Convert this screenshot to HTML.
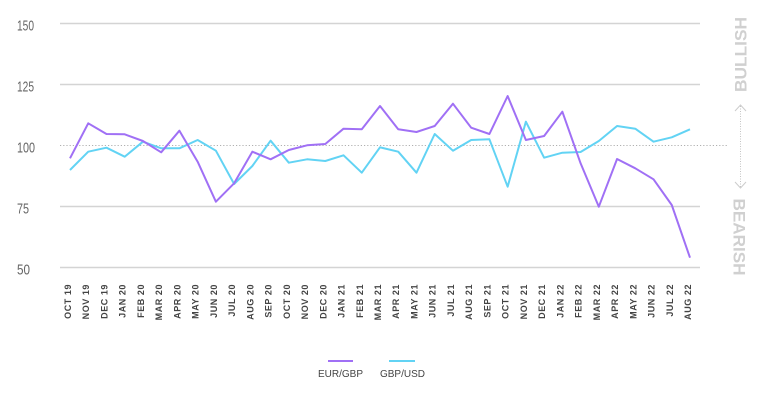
<!DOCTYPE html>
<html>
<head>
<meta charset="utf-8">
<style>
  html, body { margin: 0; padding: 0; background: #ffffff; }
  body { width: 768px; height: 406px; overflow: hidden; }
  svg { display: block; }
  .ylab { font-family: "Liberation Sans Narrow", "Liberation Sans", sans-serif; font-size: 15px; fill: #666666; }
  .xlab { font-family: "Liberation Sans", sans-serif; font-size: 9px; font-weight: bold; fill: #444444; letter-spacing: 0.55px; }
  .side { font-family: "Liberation Sans", sans-serif; font-size: 17px; font-weight: bold; fill: #d0d0d0; }
  .leg { font-family: "Liberation Sans", sans-serif; font-size: 10px; fill: #444444; }
</style>
</head>
<body>
<svg width="768" height="406" viewBox="0 0 768 406" xmlns="http://www.w3.org/2000/svg">
  <!-- gridlines -->
  <g stroke="#d4d4d4" stroke-width="1.5">
    <line x1="60" y1="23.5" x2="700" y2="23.5"/>
    <line x1="60" y1="84.5" x2="700" y2="84.5"/>
    <line x1="60" y1="206.5" x2="700" y2="206.5"/>
    <line x1="60" y1="267.5" x2="700" y2="267.5"/>
  </g>
  <line x1="60" y1="145.5" x2="727" y2="145.5" stroke="#b0b0b0" stroke-width="1" stroke-dasharray="1.2 2"/>

  <!-- y labels -->
  <text class="ylab" x="17" y="30.5" textLength="17" lengthAdjust="spacingAndGlyphs">150</text>
  <text class="ylab" x="17" y="91.5" textLength="17" lengthAdjust="spacingAndGlyphs">125</text>
  <text class="ylab" x="17" y="152.5" textLength="18" lengthAdjust="spacingAndGlyphs">100</text>
  <text class="ylab" x="17" y="213.5" textLength="12" lengthAdjust="spacingAndGlyphs">75</text>
  <text class="ylab" x="17" y="274.5" textLength="13" lengthAdjust="spacingAndGlyphs">50</text>

  <!-- series -->
  <polyline fill="none" stroke="#62d3f4" stroke-width="2" stroke-linejoin="round"
    points="70,170 88.24,151.7 106.47,147.7 124.71,156.7 142.94,141.7 161.18,148.3 179.41,148.3 197.65,140 215.88,150.7 234.12,184 252.35,166 270.59,140.7 288.82,162.7 307.06,159.3 325.29,161 343.53,155.3 361.76,172.7 380,147.3 398.24,151.7 416.47,172.7 434.71,134 452.94,150.7 471.18,140 489.41,139.3 507.65,186.7 525.88,121.7 544.12,157.7 562.35,152.7 580.59,152 598.82,141 617.06,126 635.29,128.7 653.53,141.7 671.76,137.3 690,129.3"/>
  <polyline fill="none" stroke="#a070f5" stroke-width="2" stroke-linejoin="round"
    points="70,158.3 88.24,123.3 106.47,134 124.71,134.3 142.94,141 161.18,152.3 179.41,130.7 197.65,161.7 215.88,201.7 234.12,183.3 252.35,151.7 270.59,159.3 288.82,150 307.06,145.3 325.29,144 343.53,128.7 361.76,129.3 380,106 398.24,129.3 416.47,132 434.71,126 452.94,103.7 471.18,127.7 489.41,134 507.65,96 525.88,140 544.12,136 562.35,111.7 580.59,163.3 598.82,206.7 617.06,159 635.29,168.3 653.53,179.3 671.76,205 690,257.7"/>

  <!-- x labels -->
  <g class="xlab" text-anchor="end">
    <text transform="translate(71,284) rotate(-90)">OCT 19</text>
    <text transform="translate(89.24,284) rotate(-90)">NOV 19</text>
    <text transform="translate(107.47,284) rotate(-90)">DEC 19</text>
    <text transform="translate(125.71,284) rotate(-90)">JAN 20</text>
    <text transform="translate(143.94,284) rotate(-90)">FEB 20</text>
    <text transform="translate(162.18,284) rotate(-90)">MAR 20</text>
    <text transform="translate(180.41,284) rotate(-90)">APR 20</text>
    <text transform="translate(198.65,284) rotate(-90)">MAY 20</text>
    <text transform="translate(216.88,284) rotate(-90)">JUN 20</text>
    <text transform="translate(235.12,284) rotate(-90)">JUL 20</text>
    <text transform="translate(253.35,284) rotate(-90)">AUG 20</text>
    <text transform="translate(271.59,284) rotate(-90)">SEP 20</text>
    <text transform="translate(289.82,284) rotate(-90)">OCT 20</text>
    <text transform="translate(308.06,284) rotate(-90)">NOV 20</text>
    <text transform="translate(326.29,284) rotate(-90)">DEC 20</text>
    <text transform="translate(344.53,284) rotate(-90)">JAN 21</text>
    <text transform="translate(362.76,284) rotate(-90)">FEB 21</text>
    <text transform="translate(381,284) rotate(-90)">MAR 21</text>
    <text transform="translate(399.24,284) rotate(-90)">APR 21</text>
    <text transform="translate(417.47,284) rotate(-90)">MAY 21</text>
    <text transform="translate(435.71,284) rotate(-90)">JUN 21</text>
    <text transform="translate(453.94,284) rotate(-90)">JUL 21</text>
    <text transform="translate(472.18,284) rotate(-90)">AUG 21</text>
    <text transform="translate(490.41,284) rotate(-90)">SEP 21</text>
    <text transform="translate(508.65,284) rotate(-90)">OCT 21</text>
    <text transform="translate(526.88,284) rotate(-90)">NOV 21</text>
    <text transform="translate(545.12,284) rotate(-90)">DEC 21</text>
    <text transform="translate(563.35,284) rotate(-90)">JAN 22</text>
    <text transform="translate(581.59,284) rotate(-90)">FEB 22</text>
    <text transform="translate(599.82,284) rotate(-90)">MAR 22</text>
    <text transform="translate(618.06,284) rotate(-90)">APR 22</text>
    <text transform="translate(636.29,284) rotate(-90)">MAY 22</text>
    <text transform="translate(654.53,284) rotate(-90)">JUN 22</text>
    <text transform="translate(672.76,284) rotate(-90)">JUL 22</text>
    <text transform="translate(691,284) rotate(-90)">AUG 22</text>
  </g>

  <!-- right side indicator -->
  <text class="side" text-anchor="middle" transform="translate(746.5,54.5) rotate(-90)" textLength="75" lengthAdjust="spacingAndGlyphs">BULLISH</text>
  <text class="side" text-anchor="middle" transform="translate(733.5,237) rotate(90)" textLength="77" lengthAdjust="spacingAndGlyphs">BEARISH</text>
  <line x1="740.5" y1="106" x2="740.5" y2="187" stroke="#c4c4c4" stroke-width="1" stroke-dasharray="1 1.5"/>
  <polyline points="735,111 740.5,105 746,111" fill="none" stroke="#cccccc" stroke-width="1"/>
  <polyline points="735,182 740.5,188 746,182" fill="none" stroke="#cccccc" stroke-width="1"/>

  <!-- legend -->
  <line x1="328" y1="361" x2="353" y2="361" stroke="#a070f5" stroke-width="2"/>
  <line x1="389" y1="361" x2="415" y2="361" stroke="#62d3f4" stroke-width="2"/>
  <text class="leg" x="340.5" y="377" text-anchor="middle">EUR/GBP</text>
  <text class="leg" x="402.5" y="377" text-anchor="middle">GBP/USD</text>
</svg>
</body>
</html>
